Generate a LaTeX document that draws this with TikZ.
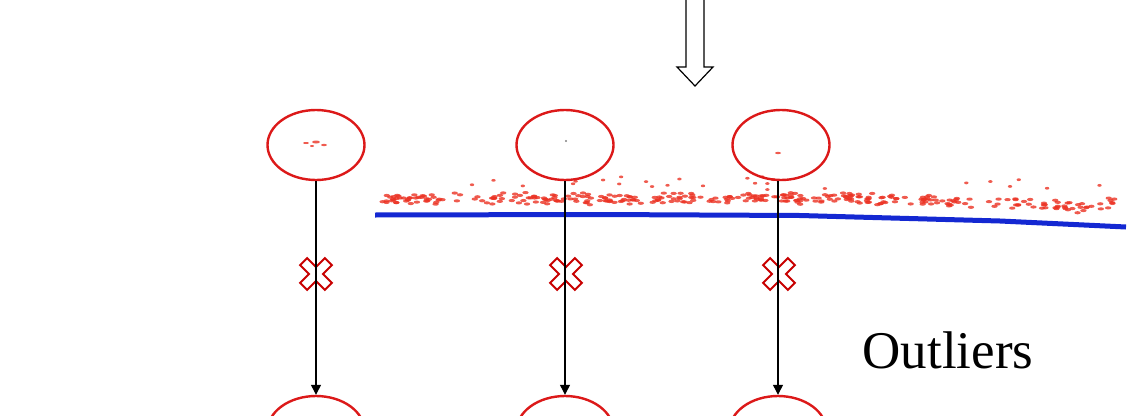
\documentclass[tikz,border=0pt]{standalone}
\usepackage{fontspec}
\setmainfont{Liberation Serif}
\usetikzlibrary{shapes.geometric,arrows.meta}
\definecolor{ellred}{RGB}{220,25,25}
\definecolor{ptred}{RGB}{235,50,35}
\definecolor{crossred}{RGB}{200,0,0}
\definecolor{cloudblue}{RGB}{20,40,210}
\tikzset{
  oval/.style={ellipse, draw=ellred, line width=2.4pt, minimum width=97pt, minimum height=70pt, inner sep=0pt},
  link/.style={draw=black, line width=1.2pt, -{Triangle[width=10pt,length=10pt]}},
  xmark/.style={draw=crossred, line width=2pt, fill=white},
  hollow/.style={draw=black, line width=1.2pt, fill=white},
  dot/.style={fill=ptred, opacity=0.8}
}
\begin{document}
\begin{tikzpicture}[x=1pt,y=-1pt]
\useasboundingbox (0,0) rectangle (1143,415);
% point cloud
\pgfmathsetseed{11}
\foreach \i in {1,...,340}{
  \pgfmathsetmacro\px{382+738*rnd}
  \pgfmathsetmacro\py{199+(\px>900)*((\px-900)/200*9)-(\px>1095)*((\px-1095)*0.5)+9*(rnd-0.5)+4*(rnd-0.5)}
  \fill[dot] (\px,\py) ellipse (3.2pt and 1.6pt);
}
\foreach \i in {1,...,26}{
  \pgfmathsetmacro\px{390+720*rnd}
  \pgfmathsetmacro\py{176+14*rnd}
  \fill[dot] (\px,\py) ellipse (2.2pt and 1.4pt);
}
% small marks inside upper ellipses
\fill[dot] (306,143) ellipse (3pt and 1pt);
\fill[dot] (316,142) ellipse (4pt and 1.5pt);
\fill[dot] (324,145) ellipse (3pt and 1.2pt);
\fill[dot] (312,146) ellipse (2pt and 1pt);
\fill[gray] (566,141) circle (1.2pt);
\fill[dot] (778,153) ellipse (3pt and 1.2pt);
% blue ground line
\draw[cloudblue, line width=5pt, line join=round] (375,215) -- (600,214.5) -- (800,215.5) -- (1000,221) -- (1126,227);
% hollow arrow
\draw[hollow] (686,-2) -- (686,67) -- (677,67) -- (695,86) -- (713,67) -- (704,67) -- (704,-2);
% upper ellipses
\node[oval] (t1) at (316,145) {};
\node[oval] (t2) at (565,145) {};
\node[oval] (t3) at (781,145) {};
% lower ellipses
\node[oval] (b1) at (316,431) {};
\node[oval] (b2) at (565,431) {};
\node[oval] (b3) at (778,431) {};
% crosses
\foreach \cx in {316,566,779}{
  \draw[xmark, shift={(\cx,274)}, rotate=45]
    (5,17.5) -- (5,5) -- (17.5,5) -- (17.5,-5) -- (5,-5) -- (5,-17.5) -- (-5,-17.5) -- (-5,-5) -- (-17.5,-5) -- (-17.5,5) -- (-5,5) -- (-5,17.5) -- cycle;
}
% connectors
\draw[link] (t1.south) -- (b1.north);
\draw[link] (t2.south -| b2.north) -- (b2.north);
\draw[link] (t3.south -| b3.north) -- (b3.north);
% label
\node[font=\fontsize{53}{60}\selectfont, anchor=base] (lbl) at (948,368) {Outliers};
\end{tikzpicture}
\end{document}
